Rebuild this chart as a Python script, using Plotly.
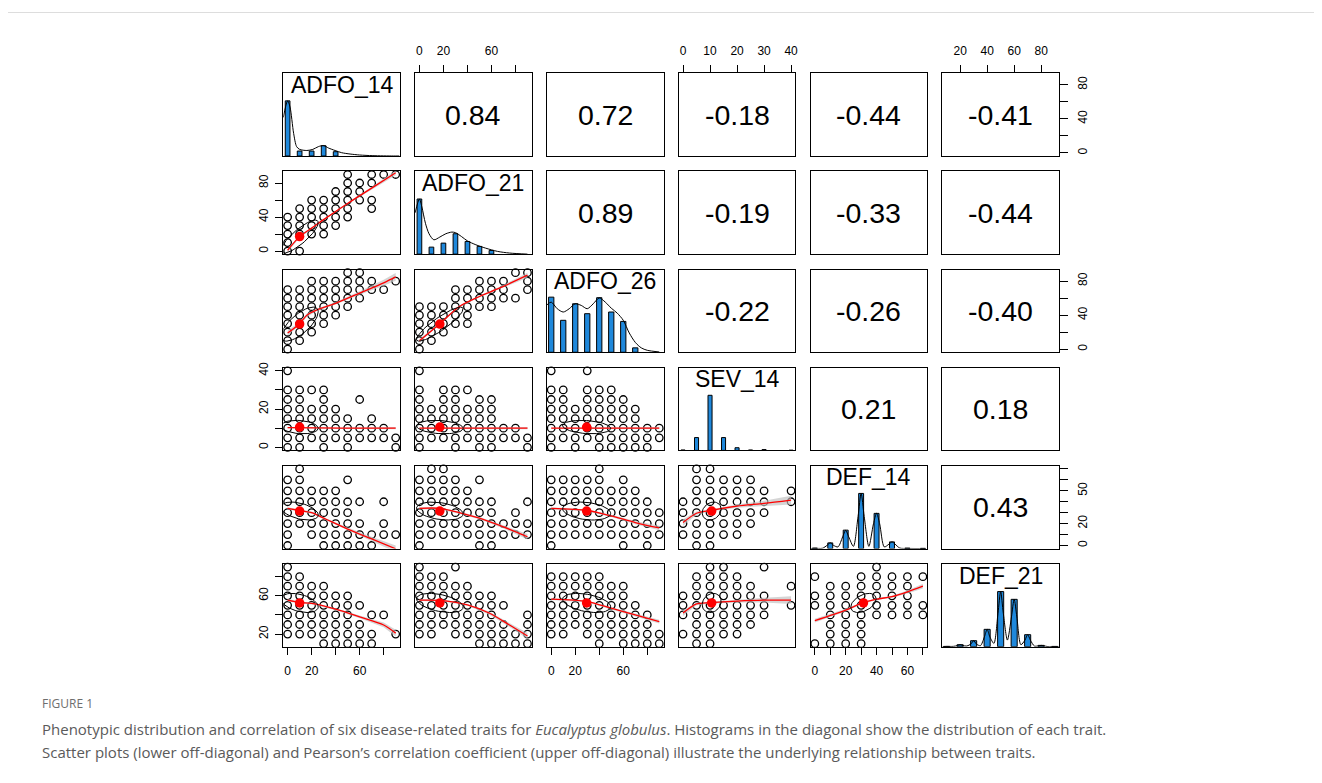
import plotly.graph_objects as go
import numpy as np

W, H = 1322, 783
OFF = 8.0  # page body margin of the browser, compensated in pixel geometry
FONT = "Liberation Sans, Arial, Helvetica, sans-serif"
CAP_FONT = "Open Sans, Noto Sans, sans-serif"

# ---------------- data ----------------
variables = ["ADFO_14", "ADFO_21", "ADFO_26", "SEV_14", "DEF_14", "DEF_21"]
var_lo = [0, 0, 0, 0, 0, 10]
var_hi = [90, 90, 90, 40, 70, 90]
var_mean = [10.0, 17.0, 29.5, 10.6, 31.5, 52.5]
var_sd = [15.5, 19.4, 20.0, 3.5, 8.2, 10.0]

corr = [
    [1.00, 0.84, 0.72, -0.18, -0.44, -0.41],
    [0.84, 1.00, 0.89, -0.19, -0.33, -0.44],
    [0.72, 0.89, 1.00, -0.22, -0.26, -0.40],
    [-0.18, -0.19, -0.22, 1.00, 0.21, 0.18],
    [-0.44, -0.33, -0.26, 0.21, 1.00, 0.43],
    [-0.41, -0.44, -0.40, 0.18, 0.43, 1.00],
]

tick_vals = [
    [0, 20, 40, 60, 80], [0, 20, 40, 60, 80], [0, 20, 40, 60, 80],
    [0, 10, 20, 30, 40], [0, 10, 20, 30, 40, 50, 60, 70], [20, 40, 60, 80],
]
x_tick_text = [
    ["0", "20", "", "60", ""], ["0", "20", "", "60", ""], ["0", "20", "", "60", ""],
    ["0", "10", "20", "30", "40"], ["0", "", "20", "", "40", "", "60", ""], ["20", "40", "60", "80"],
]
y_tick_text = [
    ["0", "", "40", "", "80"], ["0", "", "40", "", "80"], ["0", "", "40", "", "80"],
    ["0", "", "20", "", "40"], ["0", "", "20", "", "", "50", "", ""], ["20", "", "60", ""],
]

# histograms (relative heights, tallest = 100)
hist_x = [
    [0, 10, 20, 30, 40],
    [0, 10, 20, 30, 40, 50, 60],
    [0, 10, 20, 30, 40, 50, 60, 70],
    [0, 5, 10, 15, 20, 25, 30, 40],
    [0, 10, 20, 30, 40, 50, 60, 70],
    [10, 20, 30, 40, 50, 60, 70, 80, 90],
]
hist_h = [
    [100, 9, 9, 18.6, 7.8],
    [100, 12.7, 20, 37, 23, 14, 6.7],
    [100, 58, 88, 70, 99, 73, 56, 8],
    [0.8, 23.3, 100, 23.3, 4.9, 0.8, 1.5, 0.4],
    [0.8, 10.3, 33.4, 100, 63.8, 12.1, 0.8, 0.4],
    [0.5, 3.6, 10.9, 31.5, 100, 85.9, 21.8, 2.4, 0.5],
]
hist_bar_width = [3.9, 3.9, 4.4, 1.5, 3.2, 4.5]

dens_x = [
    [-3.6, 0, 2, 5, 7.5, 10, 16, 21, 25.6, 30, 34, 39.5, 45, 52, 60, 71, 88, 93],
    [-3.6, 0, 2, 5, 8, 12, 17, 22, 27, 30, 35, 40, 47, 55, 65, 75, 90],
    [-3.6, 0, 5, 10, 15, 20, 25, 30, 35, 40, 45, 50, 55, 60, 65, 70, 75, 80, 90],
    [],
    [-2.8, 0, 5, 8, 10, 12, 15, 18, 20, 22, 25, 28, 30, 32, 35, 38, 40, 42, 45, 48, 50, 52, 55, 60, 72],
    [7, 10, 15, 18, 20, 22, 25, 28, 30, 32, 35, 38, 40, 42, 45, 48, 50, 52, 55, 58, 60, 62, 65, 68, 70, 72, 75, 78, 80, 82, 85, 93],
]
dens_y = [
    [70, 100, 89, 41, 17, 12, 10, 12, 17, 19, 14.5, 10, 6, 3.6, 1.8, 0.6, 0, 0],
    [75, 100, 86, 56, 37, 26, 31, 37, 40, 39, 32, 24, 17, 11, 5, 2, 0],
    [86, 91, 79, 73, 79, 88, 85, 79, 88, 98.6, 91, 80, 71, 58, 35, 18, 8, 3.6, 0.6],
    [],
    [0, 0.5, 0.6, 6, 10.3, 6, 3, 21, 33, 21, 4, 58, 100, 58, 4, 45, 64, 45, 3, 8, 12, 8, 1, 0.3, 0],
    [0, 0.5, 0.6, 2, 3.6, 2, 1.2, 5, 10.9, 5, 1.8, 18, 31.5, 18, 6, 60, 100, 60, 12, 54, 86, 54, 3.6, 12, 21.8, 12, 1.2, 1.5, 2.4, 1.5, 0.2, 0],
]

# scatter points (lower panels): {y value: [x values]}
pts = {
    (1, 0): {90: [50, 70, 80, 90], 80: [50, 60, 70], 70: [40, 50, 60], 60: [20, 30, 40, 50, 60, 70],
             50: [10, 20, 30, 40, 50, 70], 40: [0, 10, 20, 30, 40, 50], 30: [0, 10, 20, 30, 40],
             20: [0, 10, 20, 30], 10: [0], 0: [0, 10]},
    (2, 0): {90: [50, 60], 80: [20, 30, 40, 50, 60, 70, 90], 70: [0, 10, 20, 30, 40, 50, 60, 70, 80],
             60: [0, 10, 20, 30, 40, 50, 60], 50: [0, 10, 20, 30, 40, 50], 40: [0, 10, 20, 30, 40],
             30: [0, 10, 20, 30], 20: [0, 10, 20], 10: [0, 10], 0: [0]},
    (2, 1): {90: [80, 90], 80: [50, 60, 70, 90], 70: [30, 40, 50, 60, 70, 90], 60: [30, 40, 50, 60, 70, 80],
             50: [0, 10, 20, 30, 40, 50, 60], 40: [0, 10, 20, 30, 40], 30: [0, 10, 20, 30, 40],
             20: [0, 10, 20], 10: [0, 10], 0: [0]},
    (3, 0): {40: [0], 30: [0, 10, 20, 30], 25: [0, 10, 30, 60], 20: [0, 10, 20, 30, 40],
             15: [0, 10, 20, 30, 40, 50, 70], 10: [0, 10, 20, 30, 40, 50, 60, 70, 80],
             5: [0, 10, 20, 30, 40, 50, 60, 70, 80, 90], 0: [0, 10, 30, 50, 90]},
    (3, 1): {40: [0], 30: [0, 20, 30, 40], 25: [0, 20, 30, 50, 60], 20: [0, 10, 20, 30, 40, 50, 60],
             15: [0, 10, 20, 30, 40, 50, 60], 10: [0, 10, 20, 30, 40, 50, 60, 70, 80],
             5: [0, 10, 20, 30, 40, 50, 60, 70, 80, 90], 0: [0, 30, 50, 60, 90]},
    (3, 2): {40: [0, 30], 30: [0, 10, 30, 40, 50], 25: [0, 10, 30, 40, 50, 60],
             20: [0, 10, 20, 30, 40, 50, 60, 70], 15: [0, 10, 20, 30, 40, 50, 60, 70],
             10: [0, 10, 20, 30, 40, 50, 60, 70, 80, 90], 5: [0, 10, 20, 30, 40, 50, 60, 70, 80, 90],
             0: [0, 20, 40, 50, 60, 70, 80]},
    (4, 0): {70: [10], 60: [0, 10, 50], 50: [0, 10, 20, 30, 40], 40: [0, 10, 20, 30, 40, 50, 60, 80],
             30: [0, 10, 20, 30, 40, 50], 20: [0, 10, 20, 30, 40, 50, 60, 80],
             10: [0, 20, 30, 40, 50, 60, 70, 80, 90], 0: [0, 30, 40, 50, 60, 70]},
    (4, 1): {70: [10, 20], 60: [0, 10, 20, 30, 50], 50: [0, 10, 20, 30, 40],
             40: [0, 10, 20, 30, 40, 50, 60, 90], 30: [0, 10, 20, 30, 40, 50, 60, 80],
             20: [0, 10, 20, 30, 40, 50, 60, 70, 80, 90], 10: [0, 10, 20, 30, 40, 50, 60, 70, 80, 90],
             0: [0, 50, 60]},
    (4, 2): {70: [40], 60: [0, 10, 20, 30, 40, 60], 50: [0, 10, 20, 30, 40, 50, 60, 70],
             40: [0, 10, 20, 30, 40, 50, 60, 70, 80], 30: [0, 10, 20, 30, 40, 50, 60, 70, 80, 90],
             20: [0, 10, 20, 30, 40, 50, 60, 70, 80, 90], 10: [0, 10, 20, 30, 40, 50, 60, 70, 80, 90],
             0: [0, 60, 80]},
    (4, 3): {70: [5, 10], 60: [5, 10, 15, 20, 25], 50: [5, 10, 15, 20, 25, 30, 40],
             40: [0, 5, 10, 15, 20, 25, 30, 40], 30: [0, 5, 10, 15, 20, 25, 30],
             20: [0, 5, 10, 15, 20, 25], 10: [0, 5, 10, 15, 20], 0: [5, 10]},
    (5, 0): {90: [0], 80: [0, 10], 70: [0, 10, 20, 30], 60: [0, 10, 20, 30, 40, 50],
             50: [0, 10, 20, 30, 40, 50, 60], 40: [0, 10, 20, 30, 40, 50, 70, 80],
             30: [0, 10, 20, 30, 40, 50, 60], 20: [0, 10, 20, 30, 40, 50, 60, 70, 90],
             10: [30, 40, 50, 60, 70]},
    (5, 1): {90: [0, 30], 80: [0, 10, 20], 70: [0, 10, 20, 30, 40], 60: [0, 10, 20, 30, 40, 50, 60],
             50: [0, 10, 20, 30, 40, 50, 60, 70], 40: [0, 10, 20, 30, 40, 50, 60, 90],
             30: [0, 10, 20, 30, 40, 50, 60, 70, 90], 20: [0, 10, 30, 40, 50, 60, 70, 80, 90],
             10: [50, 60, 70, 80, 90]},
    (5, 2): {80: [0, 10, 20, 30, 40], 70: [0, 10, 20, 30, 40, 50, 60], 60: [0, 10, 20, 30, 40, 50, 60],
             50: [0, 10, 20, 30, 40, 50, 60, 70], 40: [0, 10, 20, 30, 40, 50, 60, 70, 80],
             30: [0, 10, 20, 30, 40, 50, 60, 70, 80], 20: [0, 10, 30, 40, 50, 60, 70, 80, 90],
             10: [40, 60, 70, 80, 90]},
    (5, 3): {90: [10, 15, 30], 80: [5, 10, 15, 20], 70: [5, 10, 15, 20, 25, 40],
             60: [0, 5, 10, 15, 20, 25, 30], 50: [0, 5, 10, 15, 20, 25, 30, 40],
             40: [0, 5, 10, 15, 20, 25, 30], 30: [5, 10, 15, 20, 25], 20: [0, 5, 10, 15, 20], 10: [5, 10]},
    (5, 4): {90: [40], 80: [0, 30, 40, 50, 60, 70], 70: [10, 20, 30, 40, 50, 60],
             60: [0, 10, 20, 30, 40, 50, 60], 50: [0, 10, 20, 30, 40, 50, 60, 70],
             40: [10, 20, 30, 40, 50, 60, 70], 30: [10, 20, 30], 20: [10, 20, 30], 10: [0, 10, 20, 30]},
}

# smoothed fits (x, y, half-width of grey band)
smooth = {
    (1, 0): ([0, 10, 20, 30, 50, 70, 90], [1, 17, 27, 37, 56, 74, 92], [2, 1.5, 1, 1, 1, 1.5, 3]),
    (2, 0): ([0, 10, 16, 24, 40, 60, 80, 90], [19, 30, 40, 46, 54, 66, 78, 85], [3, 2, 2, 1.5, 1.5, 2, 3.5, 4.5]),
    (2, 1): ([0, 17, 33, 50, 67, 90], [10, 30, 50, 62, 72, 87], [2, 1, 1, 1, 1.5, 3]),
    (3, 0): ([0, 45, 90], [10.3, 10, 10], [0.3, 0.3, 0.6]),
    (3, 1): ([0, 45, 90], [10, 10, 10], [0.3, 0.3, 0.6]),
    (3, 2): ([0, 45, 90], [10, 10, 10], [0.3, 0.3, 0.6]),
    (4, 0): ([0, 10, 20, 32, 50, 70, 90], [34, 32, 30, 24, 15, 6, -3], [1, 1, 1, 1, 1.5, 2, 3]),
    (4, 1): ([0, 17, 33, 50, 70, 90], [34, 34, 30, 25, 17, 8], [1, 1, 1, 1, 1.5, 2.5]),
    (4, 2): ([0, 30, 50, 70, 90], [34, 32, 27, 21, 16], [1, 1, 1, 1.5, 2]),
    (4, 3): ([0, 5, 10, 20, 30, 40], [21, 29.5, 32, 36, 38.5, 41.5], [3, 1.5, 1, 1.5, 2.5, 4]),
    (5, 0): ([0, 10, 20, 40, 60, 80, 90], [55.5, 53, 52, 46, 38, 29.5, 21], [1.5, 1, 1, 1, 1.5, 2.5, 3.5]),
    (5, 1): ([0, 20, 40, 58, 75, 90], [55.5, 55, 50.5, 42, 29.5, 18], [1, 1, 1, 1.5, 2, 3]),
    (5, 2): ([0, 30, 50, 70, 90], [56.5, 54, 47, 40, 33], [1, 1, 1, 1.5, 2]),
    (5, 3): ([0, 5, 10, 20, 30, 40], [42, 51.5, 52.8, 54.5, 55.5, 55.5], [3, 1.5, 1, 1.5, 2.5, 4]),
    (5, 4): ([0, 20, 30, 40, 50, 60, 70], [34, 45, 52, 56.5, 59, 64, 70], [2, 1.5, 1, 1, 1, 1.5, 2.5]),
}

caption_head = "FIGURE 1"
caption_line1 = ("Phenotypic distribution and correlation of six disease-related traits for "
                 "<i>Eucalyptus globulus</i>. Histograms in the diagonal show the distribution of each trait.")
caption_line2 = ("Scatter plots (lower off-diagonal) and Pearson\u2019s correlation coefficient "
                 "(upper off-diagonal) illustrate the underlying relationship between traits.")

# ---------------- layout geometry (pixels, as seen on the page) ----------------
COL_LEFT0, COL_STEP, PANEL_W = 283.3, 131.8, 116.7
ROW_TOP0, ROW_STEP, PANEL_H = 73.3, 98.14, 82.7
HIST_COLOR = "#1F88DB"


def px_x(v):
    return (v - OFF) / W


def px_y(v):
    return 1 - (v - OFF) / H


def rng(i):
    pad = 0.04 * (var_hi[i] - var_lo[i])
    return [var_lo[i] - pad, var_hi[i] + pad]


fig = go.Figure()
layout = dict(
    width=W, height=H, autosize=False,
    margin=dict(l=0, r=0, t=0, b=0),
    paper_bgcolor="white", plot_bgcolor="white",
    showlegend=False,
)
annotations = []
shapes = []

STANDOFF = {"top": 5, "bottom": 5, "left": 2, "right": 5}


def tick_cfg(i, orient, side):
    d = dict(ticks="outside", ticklen=7.6, tickwidth=1, tickcolor="black",
             tickmode="array", tickvals=tick_vals[i],
             ticktext=(x_tick_text[i] if orient == "x" else y_tick_text[i]),
             showticklabels=True, side=side, ticklabelstandoff=STANDOFF[side],
             tickfont=dict(size=12, family=FONT, color="black"))
    d["tickangle"] = 0 if orient == "x" else -90
    return d


for r in range(6):
    for c in range(6):
        k = r * 6 + c + 1
        xa = "xaxis" if k == 1 else f"xaxis{k}"
        ya = "yaxis" if k == 1 else f"yaxis{k}"
        xr = "x" if k == 1 else f"x{k}"
        yr = "y" if k == 1 else f"y{k}"
        left = COL_LEFT0 + c * COL_STEP
        top = ROW_TOP0 + r * ROW_STEP
        xdom = [px_x(left), px_x(left + PANEL_W)]
        ydom = [px_y(top + PANEL_H), px_y(top)]
        base = dict(showline=True, mirror=True, linecolor="black", linewidth=1,
                    showgrid=False, zeroline=False, ticks="", showticklabels=False,
                    automargin=False, fixedrange=True)
        xax = dict(base, domain=xdom, anchor=yr, range=rng(c))
        if r == c:
            yax = dict(base, domain=ydom, anchor=xr, range=[0, 150])
        else:
            yax = dict(base, domain=ydom, anchor=xr, range=rng(r))
        if r == 0 and c % 2 == 1:
            xax.update(tick_cfg(c, "x", "top"))
        if r == 5 and c % 2 == 0:
            xax.update(tick_cfg(c, "x", "bottom"))
        if c == 0 and r % 2 == 1:
            yax.update(tick_cfg(r, "y", "left"))
        if c == 5 and r % 2 == 0:
            yax.update(tick_cfg(r, "y", "right"))
        layout[xa] = xax
        layout[ya] = yax

        if r == c:
            fig.add_trace(go.Bar(x=hist_x[c], y=hist_h[c], width=hist_bar_width[c],
                                 marker=dict(color=HIST_COLOR, line=dict(color="black", width=1)),
                                 xaxis=xr, yaxis=yr, hoverinfo="skip"))
            if dens_x[c]:
                fig.add_trace(go.Scatter(x=dens_x[c], y=dens_y[c], mode="lines",
                                         line=dict(color="black", width=1, shape="spline", smoothing=0.8),
                                         xaxis=xr, yaxis=yr, hoverinfo="skip"))
            annotations.append(dict(text=variables[c], xref=f"{xr} domain", yref=f"{yr} domain",
                                    x=0.5, y=0.86, xanchor="center", yanchor="middle",
                                    showarrow=False, font=dict(size=23, family=FONT, color="black")))
        elif c > r:
            # empty trace so that the subplot frame is drawn
            fig.add_trace(go.Scatter(x=[], y=[], mode="markers", xaxis=xr, yaxis=yr, hoverinfo="skip"))
            annotations.append(dict(text=f"{corr[r][c]:.2f}", xref=f"{xr} domain", yref=f"{yr} domain",
                                    x=0.5, y=0.5, xanchor="center", yanchor="middle",
                                    showarrow=False, font=dict(size=28.5, family=FONT, color="black")))
        else:
            p = pts[(r, c)]
            px, py = [], []
            for yv, xs in p.items():
                for xv in xs:
                    px.append(xv)
                    py.append(yv)
            fig.add_trace(go.Scatter(x=px, y=py, mode="markers",
                                     marker=dict(symbol="circle-open", size=7.5, color="black",
                                                 line=dict(width=1.3, color="black")),
                                     xaxis=xr, yaxis=yr, hoverinfo="skip", cliponaxis=False))
            sx, sy, se = smooth[(r, c)]
            sx = np.array(sx, float); sy = np.array(sy, float); se = np.array(se, float)
            fig.add_trace(go.Scatter(x=np.concatenate([sx, sx[::-1]]),
                                     y=np.concatenate([sy + se, (sy - se)[::-1]]),
                                     mode="lines", fill="toself", fillcolor="rgba(190,190,190,0.65)",
                                     line=dict(width=0, color="rgba(0,0,0,0)"),
                                     xaxis=xr, yaxis=yr, hoverinfo="skip"))
            fig.add_trace(go.Scatter(x=sx, y=sy, mode="lines",
                                     line=dict(color="red", width=1.3, shape="spline", smoothing=0.8),
                                     xaxis=xr, yaxis=yr, hoverinfo="skip"))
            rr = corr[r][c]
            ang = np.linspace(0, 2 * np.pi, 52)
            th = np.sign(rr) / np.sqrt(2) if rr != 0 else 1 / np.sqrt(2)
            a1, a2 = np.sqrt(1 + rr), np.sqrt(1 - rr)
            ex = var_mean[c] + var_sd[c] * (np.cos(ang) * a1 * th - np.sin(ang) * a2 * th)
            ey = var_mean[r] + var_sd[r] * (np.cos(ang) * a1 * th + np.sin(ang) * a2 * th)
            fig.add_trace(go.Scatter(x=ex, y=ey, mode="lines", line=dict(color="black", width=1),
                                     xaxis=xr, yaxis=yr, hoverinfo="skip"))
            fig.add_trace(go.Scatter(x=[var_mean[c]], y=[var_mean[r]], mode="markers",
                                     marker=dict(symbol="circle", size=9.5, color="#FF0000"),
                                     xaxis=xr, yaxis=yr, hoverinfo="skip", cliponaxis=False))

# page decorations
shapes.append(dict(type="line", xref="paper", yref="paper", x0=0, x1=1,
                   y0=px_y(12.5), y1=px_y(12.5), line=dict(color="#dddddd", width=1)))

annotations.append(dict(text=caption_head, xref="paper", yref="paper", x=px_x(40), y=px_y(703),
                        xanchor="left", yanchor="middle", showarrow=False,
                        font=dict(size=12, family=CAP_FONT, color="#6e6e6e")))
annotations.append(dict(text=caption_line1, xref="paper", yref="paper", x=px_x(40), y=px_y(729),
                        xanchor="left", yanchor="middle", showarrow=False,
                        font=dict(size=15, family=CAP_FONT, color="#5a5a5a")))
annotations.append(dict(text=caption_line2, xref="paper", yref="paper", x=px_x(40), y=px_y(752),
                        xanchor="left", yanchor="middle", showarrow=False,
                        font=dict(size=15, family=CAP_FONT, color="#5a5a5a")))

layout["annotations"] = annotations
layout["shapes"] = shapes
fig.update_layout(**layout)
fig.write_html("out.html")
